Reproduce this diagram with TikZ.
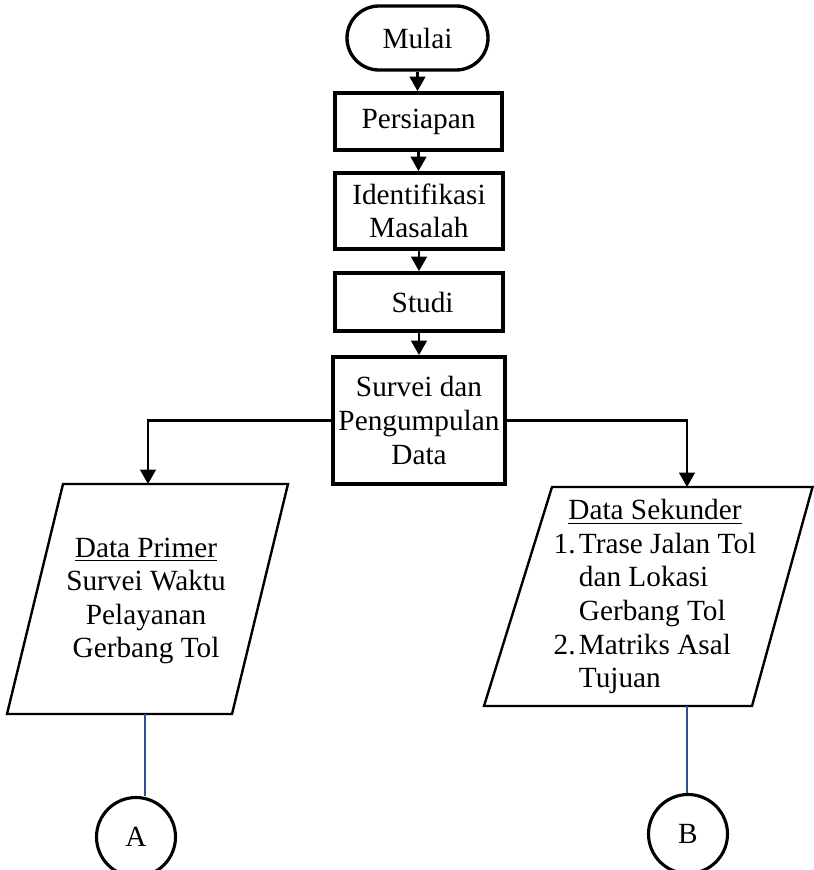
\documentclass[tikz,border=0pt]{standalone}
\usepackage{fontspec}
\setmainfont{Liberation Serif}
\usetikzlibrary{shapes.misc,arrows.meta}
\newcommand\px{0.41667pt}
\definecolor{linkblue}{RGB}{47,82,143}
\begin{document}
\begin{tikzpicture}[x=\px,y=-\px,
  font=\fontsize{12.2pt}{14pt}\selectfont,
  box/.style={draw, line width=1.6pt, rectangle, inner sep=0pt, align=center},
  term/.style={draw, line width=1.4pt, rounded rectangle, inner sep=0pt},
  conn/.style={draw, line width=1.3pt, circle, inner sep=0pt, minimum size=79*\px},
  arr/.style={line width=1pt, -{Triangle[length=6pt,width=6.5pt]}},
  para/.style={line width=1pt, line join=miter},
  link/.style={draw=linkblue, line width=0.5pt}]
\useasboundingbox (0,0) rectangle (814,870);

% main column
\node[term, minimum width=141*\px, minimum height=64*\px] (mulai) at (417.5,38) {Mulai};
\node[box, minimum width=167*\px, minimum height=57*\px] (persiapan) at (418.5,121.5) {Persiapan};
\node[box, minimum width=168*\px, minimum height=76*\px] (identifikasi) at (419,211) {Identifikasi\\Masalah};
\node[box, minimum width=168*\px, minimum height=58*\px] (studi) at (419,302) {\ Studi};
\node[box, minimum width=172*\px, minimum height=127*\px] (survei) at (419,420.5) {Survei dan\\Pengumpulan\\Data};

\draw[arr] (mulai.south) -- (mulai.south |- persiapan.north);
\draw[arr] (persiapan.south) -- (persiapan.south |- identifikasi.north);
\draw[arr] (identifikasi.south) -- (identifikasi.south |- studi.north);
\draw[arr] (studi.south) -- (studi.south |- survei.north);

% left data parallelogram
\coordinate (lp1) at (63,484);
\coordinate (lp2) at (288,484);
\coordinate (lp3) at (232,714);
\coordinate (lp4) at (7,714);
\draw[para] (lp1) -- (lp2) -- (lp3) -- (lp4) -- cycle;
\node[align=center, inner sep=0pt] (primer) at (146,601)
  {\underline{Data Primer}\\Survei Waktu\\Pelayanan\\Gerbang Tol};
\coordinate (lpin) at (148,484);
\draw[arr] (survei.west) -| (lpin);

% right data parallelogram
\coordinate (rp1) at (552,487);
\coordinate (rp2) at (812.5,487);
\coordinate (rp3) at (752,706);
\coordinate (rp4) at (484,706);
\draw[para] (rp1) -- (rp2) -- (rp3) -- (rp4) -- cycle;
\node[inner sep=0pt] (sekunder) at (655,597)
  {\begin{tabular}{@{}l@{}l@{}}
   \multicolumn{2}{@{}c@{}}{\underline{Data Sekunder}}\\
   \makebox[10.5pt][l]{1.}&Trase Jalan Tol\\
   &dan Lokasi\\
   &Gerbang Tol\\
   2.&Matriks Asal\\
   &Tujuan
   \end{tabular}};
\coordinate (rpin) at (687,487);
\draw[arr] (survei.east) -| (rpin);

% off-page connectors
\node[conn] (A) at (136,837) {A};
\node[conn] (B) at (688,834) {B};
\coordinate (lpout) at (145,714);
\coordinate (rpout) at (687,706);
\draw[link] (lpout) -- (lpout |- A.north);
\draw[link] (rpout) -- (rpout |- B.north);
\end{tikzpicture}
\end{document}
